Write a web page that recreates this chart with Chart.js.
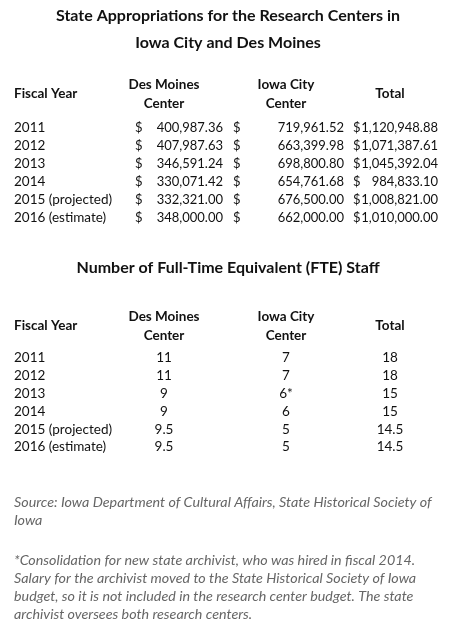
<!DOCTYPE html>
<html>
<head>
<meta charset="utf-8">
<script src="https://cdn.jsdelivr.net/npm/chart.js@4/dist/chart.umd.min.js"></script>
<style>
  body { margin: 0; background: #fff; }
</style>
</head>
<body>
<canvas id="table" width="455" height="635"></canvas>
<script>
// table data
const years = ['2011', '2012', '2013', '2014', '2015 (projected)', '2016 (estimate)'];
const desMoinesMoney = [400987.36, 407987.63, 346591.24, 330071.42, 332321.00, 348000.00];
const iowaCityMoney = [719961.52, 663399.98, 698800.80, 654761.68, 676500.00, 662000.00];
const totalMoney = [1120948.88, 1071387.61, 1045392.04, 984833.10, 1008821.00, 1010000.00];
const desMoinesStaff = ['11', '11', '9', '9', '9.5', '9.5'];
const iowaCityStaff = ['7', '7', '6*', '6', '5', '5'];
const totalStaff = ['18', '18', '15', '15', '14.5', '14.5'];

const title1 = ['State Appropriations for the Research Centers in', 'Iowa City and Des Moines'];
const title2 = 'Number of Full-Time Equivalent (FTE) Staff';
const source = ['Source: Iowa Department of Cultural Affairs, State Historical Society of', 'Iowa'];
const note = ['*Consolidation for new state archivist, who was hired in fiscal 2014.',
  'Salary for the archivist moved to the State Historical Society of Iowa',
  'budget, so it is not included in the research center budget. The state',
  'archivist oversees both research centers.'];

const money = v => v.toLocaleString('en-US', { minimumFractionDigits: 2, maximumFractionDigits: 2 });
const FONT = 'Lato, "Open Sans", sans-serif';

const tablePlugin = {
  id: 'tablePlugin',
  afterDraw(chart) {
    const ctx = chart.ctx;
    const x = chart.scales.x, y = chart.scales.y;
    const txt = (s, px, py, align, style) => {
      ctx.font = style || ('13.5px ' + FONT);
      ctx.textAlign = align || 'left';
      ctx.fillText(s, x.getPixelForValue(px), y.getPixelForValue(py));
    };
    ctx.save();
    ctx.fillStyle = '#111';
    ctx.textBaseline = 'middle';
    const head = 'bold 13.5px ' + FONT;
    const ttl = 'bold 16px ' + FONT;
    const num = '13px ' + FONT;

    // first table
    txt(title1[0], 228, 16, 'center', ttl);
    txt(title1[1], 228, 43, 'center', ttl);
    txt('Fiscal Year', 14, 94, 'left', head);
    txt('Des Moines', 164, 85, 'center', head);
    txt('Center', 164, 104, 'center', head);
    txt('Iowa City', 286, 85, 'center', head);
    txt('Center', 286, 104, 'center', head);
    txt('Total', 390, 94, 'center', head);
    years.forEach((yr, i) => {
      const py = 128 + i * 18;
      txt(yr, 14, py);
      txt('$', 135, py, 'left', num);
      txt(money(desMoinesMoney[i]), 223, py, 'right', num);
      txt('$', 233, py, 'left', num);
      txt(money(iowaCityMoney[i]), 344, py, 'right', num);
      txt('$', 353, py, 'left', num);
      txt(money(totalMoney[i]), 438, py, 'right', num);
    });

    // second table
    txt(title2, 228, 268, 'center', ttl);
    txt('Fiscal Year', 14, 326, 'left', head);
    txt('Des Moines', 164, 317, 'center', head);
    txt('Center', 164, 336, 'center', head);
    txt('Iowa City', 286, 317, 'center', head);
    txt('Center', 286, 336, 'center', head);
    txt('Total', 390, 326, 'center', head);
    years.forEach((yr, i) => {
      const py = 358 + i * 17.8;
      txt(yr, 14, py);
      txt(desMoinesStaff[i], 164, py, 'center');
      txt(iowaCityStaff[i], 286, py, 'center');
      txt(totalStaff[i], 390, py, 'center');
    });

    // notes
    ctx.fillStyle = '#666';
    source.forEach((s, i) => txt(s, 14, 502 + i * 18, 'left', 'italic 14.3px ' + FONT));
    note.forEach((s, i) => txt(s, 14, 560 + i * 18, 'left', 'italic 14.3px ' + FONT));
    ctx.restore();
  }
};

new Chart(document.querySelector('#table'), {
  type: 'scatter',
  data: { datasets: [{ data: [] }] },
  options: {
    responsive: false,
    animation: false,
    layout: { padding: 0 },
    plugins: { legend: { display: false }, tooltip: { enabled: false } },
    scales: {
      x: { type: 'linear', min: 0, max: 455, display: false },
      y: { type: 'linear', min: 0, max: 635, reverse: true, display: false }
    }
  },
  plugins: [tablePlugin]
});
</script>
</body>
</html>
